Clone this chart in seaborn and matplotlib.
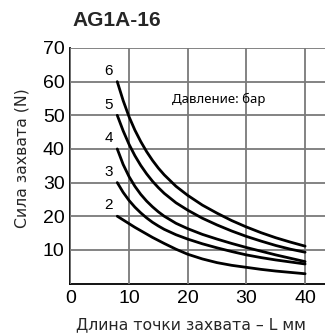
import numpy as np
import pandas as pd
import matplotlib
matplotlib.use("Agg")
import matplotlib.pyplot as plt
import seaborn as sns

# Data
length_mm = [8, 9, 10, 11, 12, 13, 14, 15, 16, 18, 20, 22.5, 25, 27.5, 30, 32.5, 35, 37.5, 40]
force_6bar = [60, 54.4, 49.6, 45.6, 42.2, 39.2, 36.6, 34.3, 32.3, 28.9, 26.2, 23.3, 20.9, 18.7, 16.8, 15.1, 13.6, 12.3, 11.1]
force_5bar = [50, 45.4, 41.4, 38.0, 35.1, 32.6, 30.4, 28.5, 26.8, 24.0, 21.8, 19.4, 17.4, 15.6, 14.0, 12.6, 11.3, 10.2, 9.3]
force_4bar = [40, 35.4, 31.8, 28.9, 26.5, 24.5, 22.8, 21.3, 20.0, 17.9, 16.3, 14.6, 13.2, 11.9, 10.7, 9.6, 8.5, 7.5, 6.5]
force_3bar = [30, 27.1, 24.7, 22.7, 21.0, 19.5, 18.2, 17.1, 16.1, 14.5, 13.2, 11.8, 10.6, 9.5, 8.5, 7.7, 7.0, 6.4, 5.8]
force_2bar = [20, 18.9, 17.8, 16.7, 15.7, 14.7, 13.7, 12.8, 11.9, 10.2, 8.7, 7.3, 6.2, 5.4, 4.8, 4.2, 3.7, 3.3, 2.9]
pressures = ["6", "5", "4", "3", "2"]
series = [force_6bar, force_5bar, force_4bar, force_3bar, force_2bar]

x_ticks = [0, 10, 20, 30, 40]
y_ticks = [10, 20, 30, 40, 50, 60, 70]

title = "AG1A-16"
x_label = "Длина точки захвата – L мм"
y_label = "Сила захвата (N)"
note = "Давление: бар"

rows = []
for p, vals in zip(pressures, series):
    for L, F in zip(length_mm, vals):
        rows.append({"L": L, "F": F, "p": p})
df = pd.DataFrame(rows)

sns.set_theme(style="whitegrid", rc={"grid.color": "#7a7a7a", "grid.linewidth": 1.3,
                                     "axes.edgecolor": "black"})
plt.rcParams["font.family"] = ["Liberation Sans", "DejaVu Sans"]

fig, ax = plt.subplots(figsize=(3.25, 3.33), dpi=100)
fig.subplots_adjust(left=70.3 / 325, right=1.0, bottom=1 - 283.5 / 333, top=1 - 48 / 333)

sns.lineplot(data=df, x="L", y="F", hue="p", palette=["black"] * 5,
             linewidth=2.0, legend=False, ax=ax, sort=True, zorder=3)

ax.set_xlim(0, (325 - 70.3) / 5.87)
ax.set_ylim(0, 70)
ax.set_xticks(x_ticks)
ax.set_yticks(y_ticks)
ax.tick_params(axis="both", labelsize=14, labelcolor="black", color="white",
               length=0)
ax.tick_params(axis="x", pad=5)
ax.tick_params(axis="y", pad=4)
ax.set_axisbelow(False)
ax.grid(True, which="major", axis="both", color="#7a7a7a", linewidth=1.3,
        zorder=2.5)
for s in ["top", "right"]:
    ax.spines[s].set_visible(False)
for s in ["left", "bottom"]:
    ax.spines[s].set_visible(True)
    ax.spines[s].set_color("black")
    ax.spines[s].set_linewidth(1.3)
ax.set_xlabel("")
ax.set_ylabel("")

for p, vals in zip(pressures, series):
    ax.text(6.5, vals[0] + 3.2, p, ha="center", va="center", fontsize=11,
            color="black")

ax.text(25.2, 54.6, note, ha="center", va="center", fontsize=9.5,
        family=["Noto Sans", "DejaVu Sans"], color="black")

fig.text(116.5 / 325, 1 - 20.3 / 333, title, ha="center", va="center",
         fontsize=15, fontweight="bold")
fig.text(191 / 325, 1 - 325 / 333, x_label, ha="center", va="center",
         fontsize=11.3, family=["DejaVu Sans"])
fig.text(22 / 325, 1 - 158.3 / 333, y_label, ha="center", va="center",
         rotation=90, fontsize=11.3, family=["DejaVu Sans"])

fig.savefig("out.png", dpi=100)
